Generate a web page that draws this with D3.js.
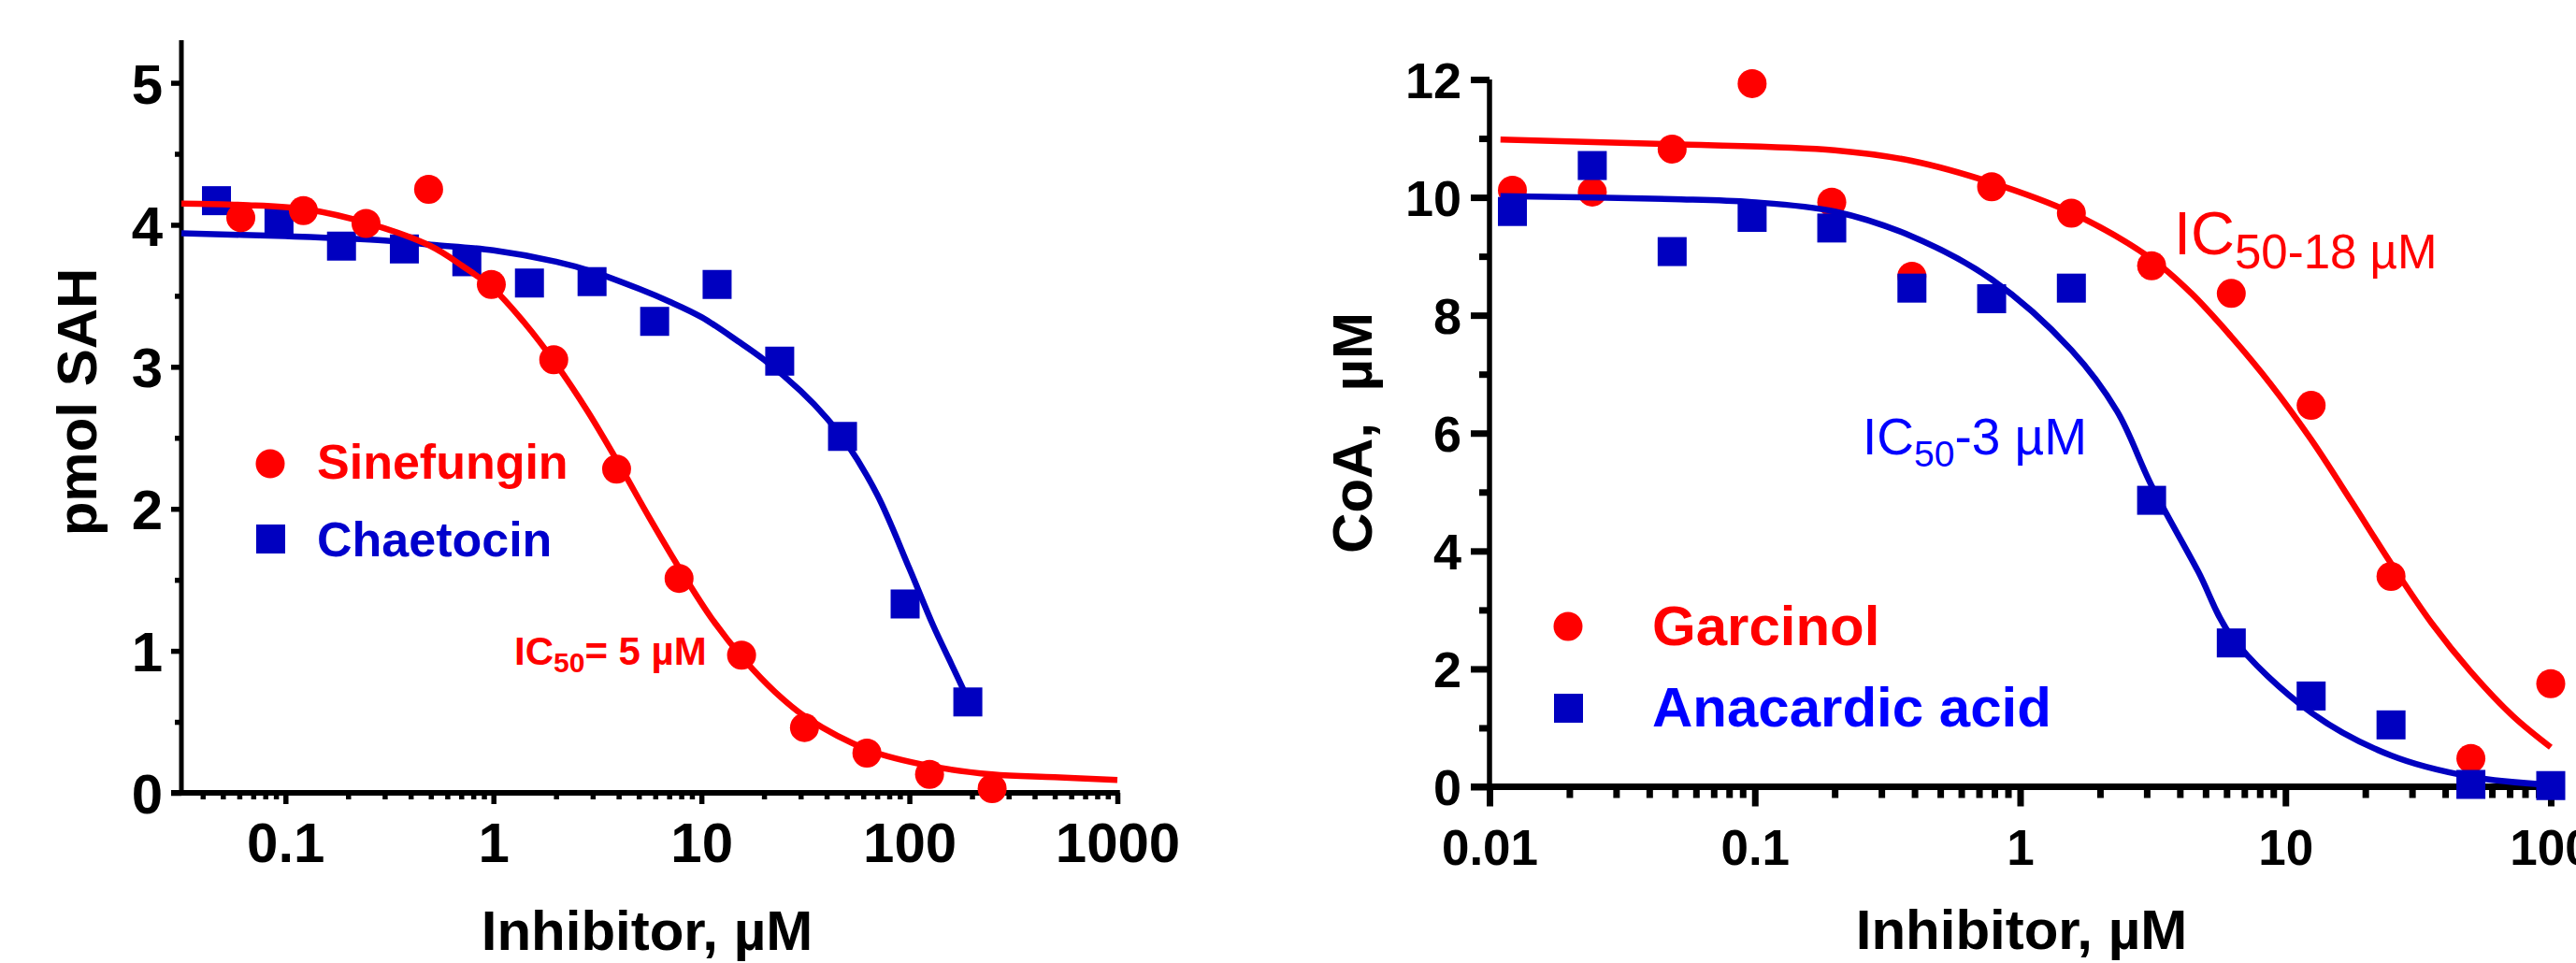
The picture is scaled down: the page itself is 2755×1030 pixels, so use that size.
<!DOCTYPE html>
<html>
<head>
<meta charset="utf-8">
<script src="https://cdn.jsdelivr.net/npm/d3@7"></script>
<style>
    body { margin: 0; background: #fff; }
    svg { display: block; }
</style>
</head>
<body>
<div id="chart"></div>
<script>
// ---------- data: left panel (pmol SAH) ----------
var sineConc = [0.061, 0.122, 0.244, 0.488, 0.977, 1.95, 3.91, 7.81, 15.6, 31.3, 62.5, 125, 250];
var sineSAH = [4.05, 4.10, 4.01, 4.25, 3.58, 3.05, 2.28, 1.51, 0.97, 0.46, 0.28, 0.13, 0.03];
var chaeConc = [0.0466, 0.0931, 0.186, 0.373, 0.745, 1.49, 2.98, 5.96, 11.9, 23.8, 47.7, 95.4, 191];
var chaeSAH = [4.17, 4.02, 3.85, 3.83, 3.74, 3.59, 3.60, 3.32, 3.58, 3.04, 2.51, 1.33, 0.64];

// fitted curves
var sineFitConc = [0.0316, 0.0625, 0.125, 0.25, 0.5, 0.71, 1, 1.41, 2, 2.83, 4, 5.66, 8, 11.3, 16, 22.6, 32, 64, 125, 250, 500, 1000];
var sineFitSAH = [4.15, 4.14, 4.11, 4.01, 3.85, 3.71, 3.55, 3.31, 3.02, 2.69, 2.32, 1.93, 1.56, 1.22, 0.94, 0.71, 0.53, 0.30, 0.19, 0.13, 0.11, 0.09];
var chaeFitConc = [0.0316, 0.1, 0.3, 0.5, 1, 2, 3, 5, 7, 10, 15, 20, 30, 40, 50, 70, 100, 130, 160, 191];
var chaeFitSAH = [3.94, 3.92, 3.89, 3.86, 3.82, 3.74, 3.67, 3.55, 3.46, 3.35, 3.18, 3.05, 2.83, 2.64, 2.46, 2.10, 1.58, 1.18, 0.90, 0.66];

var leftXTicks = [0.1, 1, 10, 100, 1000];
var leftYTicks = [0, 1, 2, 3, 4, 5];
var leftYMinor = [0.5, 1.5, 2.5, 3.5, 4.5];
var leftLegend = ["Sinefungin", "Chaetocin"];

// ---------- data: right panel (CoA) ----------
var garcConc = [0.0122, 0.0244, 0.0488, 0.0977, 0.195, 0.391, 0.781, 1.56, 3.13, 6.25, 12.5, 25, 50, 100];
var garcCoA = [10.12, 10.09, 10.82, 11.93, 9.92, 8.66, 10.18, 9.73, 8.84, 8.37, 6.47, 3.57, 0.48, 1.75];
var anacConc = [0.0122, 0.0244, 0.0488, 0.0977, 0.195, 0.391, 0.781, 1.56, 3.13, 6.25, 12.5, 25, 50, 100];
var anacCoA = [9.76, 10.54, 9.08, 9.66, 9.48, 8.46, 8.28, 8.46, 4.86, 2.44, 1.54, 1.05, 0.04, 0.02];

var garcFitConc = [0.011, 0.05, 0.2, 0.39, 0.78, 1.56, 3.12, 4.4, 6.24, 8.8, 12.5, 17.8, 25, 35.8, 50, 72, 100];
var garcFitCoA = [10.98, 10.9, 10.8, 10.62, 10.25, 9.74, 8.96, 8.38, 7.64, 6.83, 5.89, 4.83, 3.79, 2.76, 1.95, 1.20, 0.67];
var anacFitConc = [0.011, 0.049, 0.0975, 0.2, 0.39, 0.78, 1.56, 2.32, 3.12, 4.68, 6.24, 12.5, 25, 50, 100];
var anacFitCoA = [10.02, 9.97, 9.92, 9.76, 9.34, 8.61, 7.41, 6.37, 5.12, 3.66, 2.56, 1.26, 0.53, 0.17, 0.03];

var rightXTicks = [0.01, 0.1, 1, 10, 100];
var rightYTicks = [0, 2, 4, 6, 8, 10, 12];
var rightYMinor = [1, 3, 5, 7, 9, 11];
var rightLegend = ["Garcinol", "Anacardic acid"];

var FONT = "'Liberation Sans', Arial, Helvetica, sans-serif";
var RED = "#ff0000";
var BLUE = "#0000c0";

var svg = d3.select("#chart")
    .append("svg")
    .attr("width", 2755)
    .attr("height", 1030)
    .attr("font-family", FONT);

// minor ticks 2..9 of every decade inside the domain
function logMinors(domain) {
    var out = [];
    for (var e = -3; e <= 3; e++) {
        for (var m = 2; m <= 9; m++) {
            var v = m * Math.pow(10, e);
            if (v >= domain[0] * 1.0001 && v <= domain[1]) out.push(v);
        }
    }
    return out;
}

function pairs(xs, ys) {
    return xs.map(function(d, i) { return [d, ys[i]]; });
}

// draw both axes of one panel
function drawAxes(g, x, y, o) {
    var x0 = x.range()[0], x1 = x.range()[1];
    var yBase = y(0);

    // x minor ticks
    g.append("g")
        .attr("transform", "translate(0," + yBase + ")")
        .call(d3.axisBottom(x).tickValues(logMinors(x.domain())).tickSize(o.xMinor).tickFormat(""))
        .call(function(a) { a.select(".domain").remove(); })
        .selectAll("line").attr("stroke", "#000").attr("stroke-width", o.tickW);

    // x major ticks + labels
    var gx = g.append("g")
        .attr("transform", "translate(0," + yBase + ")")
        .call(d3.axisBottom(x).tickValues(o.xTicks).tickSize(o.xMajor).tickFormat(function(d) { return String(d); }));
    gx.select(".domain").remove();
    gx.attr("font-family", FONT).attr("font-size", o.xFont).attr("font-weight", "bold");
    gx.selectAll("line").attr("stroke", "#000").attr("stroke-width", o.tickW);
    gx.selectAll("text").attr("fill", "#000").attr("y", o.xLabelY).attr("dy", null);

    // y minor ticks
    g.append("g")
        .attr("transform", "translate(" + x0 + ",0)")
        .call(d3.axisLeft(y).tickValues(o.yMinor).tickSize(o.yMinorLen).tickFormat(""))
        .call(function(a) { a.select(".domain").remove(); })
        .selectAll("line").attr("stroke", "#000").attr("stroke-width", o.tickW);

    // y major ticks + labels
    var gy = g.append("g")
        .attr("transform", "translate(" + x0 + ",0)")
        .call(d3.axisLeft(y).tickValues(o.yTicks).tickSize(o.yMajorLen).tickFormat(d3.format("d")));
    gy.select(".domain").remove();
    gy.attr("font-family", FONT).attr("font-size", o.yFont).attr("font-weight", "bold");
    gy.selectAll("line").attr("stroke", "#000").attr("stroke-width", o.tickW);
    gy.selectAll("text").attr("fill", "#000").attr("x", o.yLabelX).attr("dy", "0.36em");

    // axis lines
    g.append("line")
        .attr("x1", x0).attr("x2", x0)
        .attr("y1", y.range()[1]).attr("y2", yBase)
        .attr("stroke", "#000").attr("stroke-width", o.yAxisW);
    g.append("line")
        .attr("x1", x0 - o.yMajorLen).attr("x2", x1 + o.tickW / 2)
        .attr("y1", yBase).attr("y2", yBase)
        .attr("stroke", "#000").attr("stroke-width", o.xAxisW);
}

function drawCurve(g, x, y, data, color) {
    var line = d3.line()
        .x(function(d) { return x(d[0]); })
        .y(function(d) { return y(d[1]); })
        .curve(d3.curveCatmullRom.alpha(0.5));
    g.append("path")
        .datum(data)
        .attr("fill", "none")
        .attr("stroke", color)
        .attr("stroke-width", 6.5)
        .attr("d", line);
}

function drawCircles(g, x, y, data, color) {
    g.append("g")
        .selectAll("circle")
        .data(data)
        .enter()
        .append("circle")
        .attr("cx", function(d) { return x(d[0]); })
        .attr("cy", function(d) { return y(d[1]); })
        .attr("r", 15.5)
        .attr("fill", color);
}

function drawSquares(g, x, y, data, color) {
    g.append("g")
        .selectAll("rect")
        .data(data)
        .enter()
        .append("rect")
        .attr("x", function(d) { return x(d[0]) - 15.5; })
        .attr("y", function(d) { return y(d[1]) - 15.5; })
        .attr("width", 31)
        .attr("height", 31)
        .attr("fill", color);
}

function plotLeft() {
    var g = svg.append("g");
    var x = d3.scaleLog().domain([0.0316, 1000]).range([194, 1195]);
    var y = d3.scaleLinear().domain([0, 5.3]).range([848, 43]);

    drawAxes(g, x, y, {
        xTicks: leftXTicks, yTicks: leftYTicks, yMinor: leftYMinor,
        xMajor: 12, xMinor: 7, yMajorLen: 11, yMinorLen: 7,
        tickW: 5.5, xAxisW: 6, yAxisW: 5,
        xFont: 60, yFont: 60, xLabelY: 74, yLabelX: -20
    });

    // blue first, red on top
    drawCurve(g, x, y, pairs(chaeFitConc, chaeFitSAH), BLUE);
    drawSquares(g, x, y, pairs(chaeConc, chaeSAH), BLUE);
    drawCurve(g, x, y, pairs(sineFitConc, sineFitSAH), RED);
    drawCircles(g, x, y, pairs(sineConc, sineSAH), RED);

    // legend
    g.append("circle").attr("cx", 289).attr("cy", 496).attr("r", 15.5).attr("fill", RED);
    g.append("text").attr("x", 339).attr("y", 512)
        .attr("font-size", 52).attr("font-weight", "bold").attr("fill", RED)
        .text(leftLegend[0]);
    g.append("rect").attr("x", 274).attr("y", 561).attr("width", 31).attr("height", 31).attr("fill", BLUE);
    g.append("text").attr("x", 339).attr("y", 595)
        .attr("font-size", 52).attr("font-weight", "bold").attr("fill", "#0000cc")
        .text(leftLegend[1]);

    // IC50 note
    var ic = g.append("text").attr("x", 550).attr("y", 711)
        .attr("font-size", 42).attr("font-weight", "bold").attr("fill", RED);
    ic.append("tspan").text("IC");
    ic.append("tspan").attr("font-size", 30).attr("dy", 8).text("50");
    ic.append("tspan").attr("dy", -8).text("= 5 \u00b5M");

    // axis titles
    g.append("text")
        .attr("text-anchor", "middle")
        .attr("transform", "translate(103,430) rotate(-90)")
        .attr("font-size", 60).attr("font-weight", "bold")
        .text("pmol SAH");
    g.append("text")
        .attr("text-anchor", "middle")
        .attr("x", 692).attr("y", 1016)
        .attr("font-size", 60).attr("font-weight", "bold")
        .text("Inhibitor, \u00b5M");
}

function plotRight() {
    var g = svg.append("g");
    var x = d3.scaleLog().domain([0.01, 100]).range([1593, 2728]);
    var y = d3.scaleLinear().domain([0, 12]).range([841.5, 85]);

    drawAxes(g, x, y, {
        xTicks: rightXTicks, yTicks: rightYTicks, yMinor: rightYMinor,
        xMajor: 21, xMinor: 12, yMajorLen: 20, yMinorLen: 11,
        tickW: 7, xAxisW: 7, yAxisW: 5.5,
        xFont: 53, yFont: 54, xLabelY: 83, yLabelX: -30
    });

    // red first, blue on top
    drawCurve(g, x, y, pairs(garcFitConc, garcFitCoA), RED);
    drawCircles(g, x, y, pairs(garcConc, garcCoA), RED);
    drawCurve(g, x, y, pairs(anacFitConc, anacFitCoA), BLUE);
    drawSquares(g, x, y, pairs(anacConc, anacCoA), BLUE);

    // legend
    g.append("circle").attr("cx", 1677).attr("cy", 670).attr("r", 15.5).attr("fill", RED);
    g.append("text").attr("x", 1767).attr("y", 690)
        .attr("font-size", 60).attr("font-weight", "bold").attr("fill", RED)
        .text(rightLegend[0]);
    g.append("rect").attr("x", 1662).attr("y", 742).attr("width", 31).attr("height", 31).attr("fill", BLUE);
    g.append("text").attr("x", 1767).attr("y", 777)
        .attr("font-size", 60).attr("font-weight", "bold").attr("fill", "#0000ff")
        .text(rightLegend[1]);

    // IC50 notes
    var icR = g.append("text").attr("x", 2325).attr("y", 272)
        .attr("font-size", 65).attr("fill", RED);
    icR.append("tspan").text("IC");
    icR.append("tspan").attr("font-size", 51).attr("dy", 15).text("50-18 \u00b5M");

    var icB = g.append("text").attr("x", 1992).attr("y", 486)
        .attr("font-size", 55).attr("fill", "#0000ff");
    icB.append("tspan").text("IC");
    icB.append("tspan").attr("font-size", 39).attr("dy", 13).text("50");
    icB.append("tspan").attr("dy", -13).text("-3 \u00b5M");

    // axis titles
    g.append("text")
        .attr("text-anchor", "middle")
        .attr("transform", "translate(1467,463) rotate(-90)")
        .attr("font-size", 60).attr("font-weight", "bold")
        .style("white-space", "pre")
        .text("CoA,  \u00b5M");
    g.append("text")
        .attr("text-anchor", "middle")
        .attr("x", 2162).attr("y", 1015)
        .attr("font-size", 60).attr("font-weight", "bold")
        .text("Inhibitor, \u00b5M");
}

plotLeft();
plotRight();
</script>
</body>
</html>
